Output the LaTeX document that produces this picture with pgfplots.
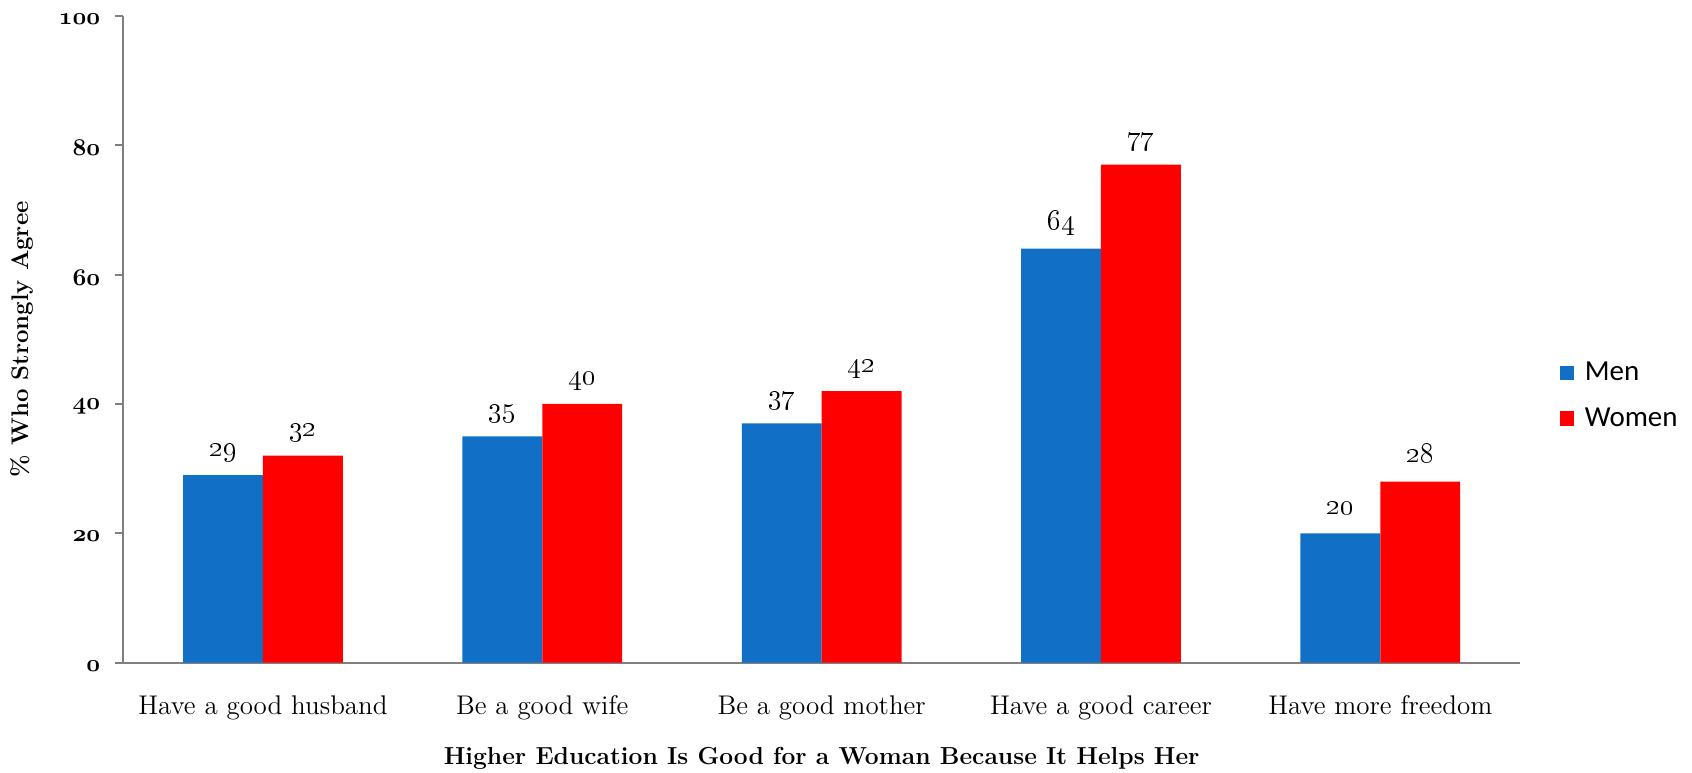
\documentclass[border=0pt]{standalone}
\usepackage{fontspec}
\usepackage{pgfplots}
\pgfplotsset{compat=1.18}
\newfontfamily\legfont{Carlito}
\definecolor{menblue}{HTML}{1170C6}
\definecolor{womenred}{HTML}{FF0000}
\definecolor{axisgray}{HTML}{808080}
% hanging (old-style) figures from the TS1 Latin Modern fonts
\newcommand{\osf}[1]{{\fontencoding{TS1}\fontfamily{lmr}\selectfont #1}}
% bold hanging figures, taken from the bold math italic font
\newcommand{\osfb}[1]{{\usefont{OML}{cmm}{b}{it}#1}}

\begin{document}
\begin{tikzpicture}
\useasboundingbox (-61.65pt,-54.65pt) rectangle (784.35pt,331.35pt);
\begin{axis}[
  at={(0pt,0pt)}, anchor=south west,
  scale only axis,
  width=698.35pt, height=323.45pt,
  ybar=0pt,
  bar width=0.286,
  xmin=-0.5, xmax=4.5,
  ymin=0, ymax=100,
  axis x line=bottom, axis y line=left,
  axis line style={-, draw=axisgray, line width=1pt},
  xtick={0,1,2,3,4},
  xticklabels={Have a good husband, Be a good wife, Be a good mother, Have a good career, Have more freedom},
  x tick style={draw=none},
  x tick label style={font=\fontsize{13.5}{15}\selectfont, anchor=base, yshift=-22pt},
  ytick={0,20,40,60,80,100},
  y tick style={draw=axisgray, line width=1pt},
  tick align=outside,
  major tick length=4pt,
  /pgf/number format/assume math mode=true,
  yticklabel={\osfb{\pgfmathprintnumber{\tick}}},
  y tick label style={font=\fontsize{12}{13}\selectfont, anchor=east, xshift=-4pt, yshift=-1.5pt},
  ylabel={\% Who Strongly Agree},
  ylabel style={at={(axis description cs:-0.0725,0.5)}, anchor=center, font=\bfseries\fontsize{12}{14}\selectfont},
  xlabel={Higher Education Is Good for a Woman Because It Helps Her},
  xlabel style={at={(axis description cs:0.5,0)}, anchor=base, yshift=-51pt, font=\bfseries\fontsize{12.3}{14}\selectfont},
  nodes near coords={\osf{\pgfmathprintnumber{\pgfplotspointmeta}}},
  every node near coord/.append style={font=\fontsize{13.5}{15}\selectfont, anchor=base, yshift=9.5pt, text=black},
  legend style={at={(axis description cs:1.028,0.413)}, anchor=west, draw=none, fill=none,
    inner sep=0pt, row sep=8pt, font=\legfont\fontsize{14.5}{17}\selectfont,
    /tikz/every odd column/.append style={column sep=3.5pt}},
  legend cell align=left,
]
\addplot[fill=menblue, draw=none,
  legend image code/.code={\fill[menblue] (0pt,-3.6pt) rectangle (7.2pt,3.6pt);}]
  coordinates {(0,29) (1,35) (2,37) (3,64) (4,20)};
\addplot[fill=womenred, draw=none,
  legend image code/.code={\fill[womenred] (0pt,-3.6pt) rectangle (7.2pt,3.6pt);}]
  coordinates {(0,32) (1,40) (2,42) (3,77) (4,28)};
\legend{Men, Women}
\end{axis}
\end{tikzpicture}
\end{document}
